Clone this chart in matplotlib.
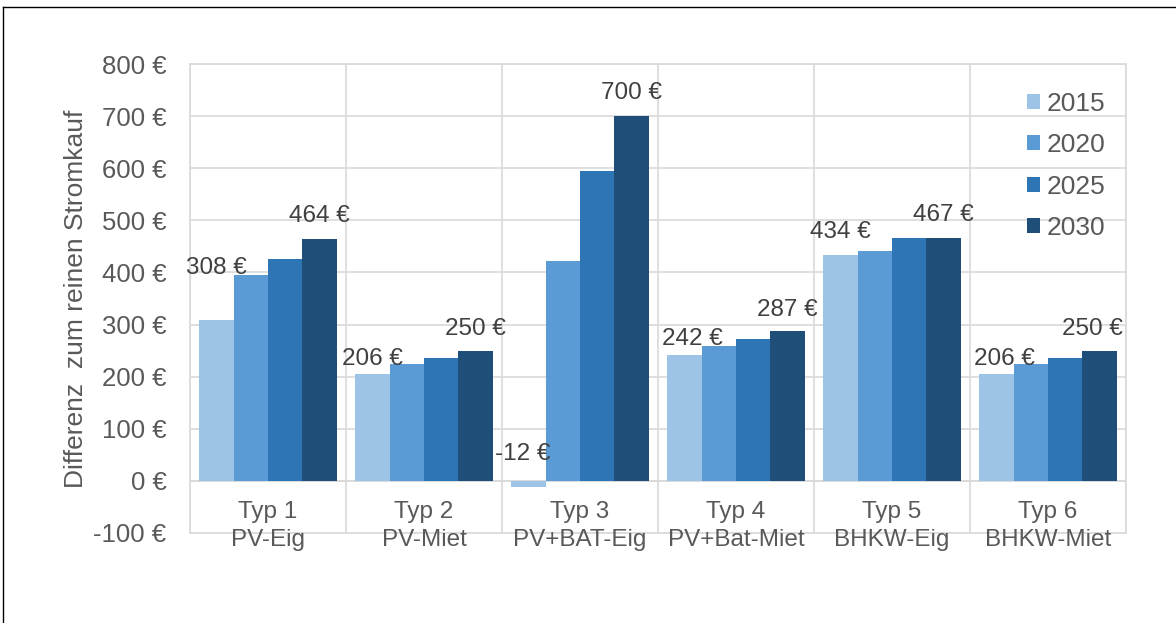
import matplotlib
matplotlib.use("Agg")
import matplotlib.pyplot as plt
from matplotlib.lines import Line2D
import numpy as np

plt.rcParams['font.family'] = ['Liberation Sans', 'DejaVu Sans']

# ---- data ----
categories = ['Typ 1', 'Typ 2', 'Typ 3', 'Typ 4', 'Typ 5', 'Typ 6']
subtitles = ['PV-Eig', 'PV-Miet', 'PV+BAT-Eig', 'PV+Bat-Miet', 'BHKW-Eig', 'BHKW-Miet']
years = ['2015', '2020', '2025', '2030']
v2015 = [308, 206, -12, 242, 434, 206]
v2020 = [395, 224, 422, 258, 442, 224]
v2025 = [426, 235, 594, 273, 467, 235]
v2030 = [464, 250, 700, 287, 467, 250]
yticks = list(range(-100, 801, 100))
ytick_labels = [f'{t} €' for t in yticks]
ylabel = 'Differenz  zum reinen Stromkauf'

# ---- styles ----
colors = ['#9DC3E6', '#5B9BD5', '#2E75B6', '#1F4E79']
grid_c = '#D9D9D9'
tick_c = '#595959'
lab_c = '#404040'
fs = 17.5
# label nudges (pixels): dx, dy above bar top (baseline)
dx15 = [0, 0, -6, 8, 0, 8]
dy15 = [46, 9, 21, 10, 17, 9]
dx30 = [0, 0, 0, 0, 0, -7]
dy30 = [17, 16, 17, 15, 17, 16]

W, H = 1176, 623
fig = plt.figure(figsize=(W / 100, H / 100), dpi=100)
ax = fig.add_axes([190 / W, 1 - 533 / H, 936 / W, 469 / H])

series = [v2015, v2020, v2025, v2030]
x = np.arange(len(categories))
bw = 0.221
bars = []
for k, vals in enumerate(series):
    b = ax.bar(x + (k - 1.5) * bw, vals, width=bw, color=colors[k],
               edgecolor='none', zorder=3, label=years[k])
    bars.append(b)

ax.set_xlim(-0.5, len(categories) - 0.5)
ax.set_ylim(-100, 800)
ax.set_yticks(yticks)
ax.set_yticklabels(ytick_labels, fontsize=18.5, color=tick_c)
ax.tick_params(axis='y', length=0, pad=17)
ax.set_xticks([])
ax.set_xticks(np.arange(-0.5, len(categories), 1), minor=True)
ax.tick_params(axis='x', which='both', length=0, labelbottom=False)
ax.grid(axis='y', which='major', color=grid_c, lw=1.2, zorder=0)
ax.grid(axis='x', which='minor', color=grid_c, lw=1.2, zorder=0)
ax.set_axisbelow(True)
for s in ax.spines.values():
    s.set_color(grid_c)
    s.set_linewidth(1.2)
ax.axhline(0, color=grid_c, lw=1.2, zorder=1)

# category labels
for i in range(len(categories)):
    ax.annotate(categories[i], xy=(x[i], 0), xytext=(0, -37), textcoords='offset pixels',
                ha='center', va='baseline', fontsize=fs, color=tick_c)
    ax.annotate(subtitles[i], xy=(x[i], 0), xytext=(0, -65), textcoords='offset pixels',
                ha='center', va='baseline', fontsize=fs, color=tick_c)

# data labels for 2015 and 2030
for i in range(len(categories)):
    v = v2015[i]
    ax.annotate(f'{v} €', xy=(x[i] - 1.5 * bw, max(v, 0)), xytext=(dx15[i], dy15[i]),
                textcoords='offset pixels', ha='center', va='baseline',
                fontsize=fs, color=lab_c, zorder=5)
    v = v2030[i]
    ax.annotate(f'{v} €', xy=(x[i] + 1.5 * bw, max(v, 0)), xytext=(dx30[i], dy30[i]),
                textcoords='offset pixels', ha='center', va='baseline',
                fontsize=fs, color=lab_c, zorder=5)

fig.text(76 / W, 1 - 299 / H, ylabel, rotation=90, ha='center', va='center',
         fontsize=19, color=tick_c)

ax.legend(handles=bars, labels=years, loc='upper left', bbox_to_anchor=(0.894, 0.941),
          frameon=False, fontsize=19, handlelength=0.49, handleheight=0.49,
          handletextpad=0.27, labelspacing=0.66, borderpad=0, borderaxespad=0,
          labelcolor=tick_c)

# outer frame (top and left edges visible)
fig.add_artist(Line2D([3 / W, 1], [1 - 7 / H, 1 - 7 / H], color='black', lw=1,
                      transform=fig.transFigure))
fig.add_artist(Line2D([3 / W, 3 / W], [0, 1 - 7 / H], color='black', lw=1,
                      transform=fig.transFigure))

fig.savefig('out.png', dpi=100)
